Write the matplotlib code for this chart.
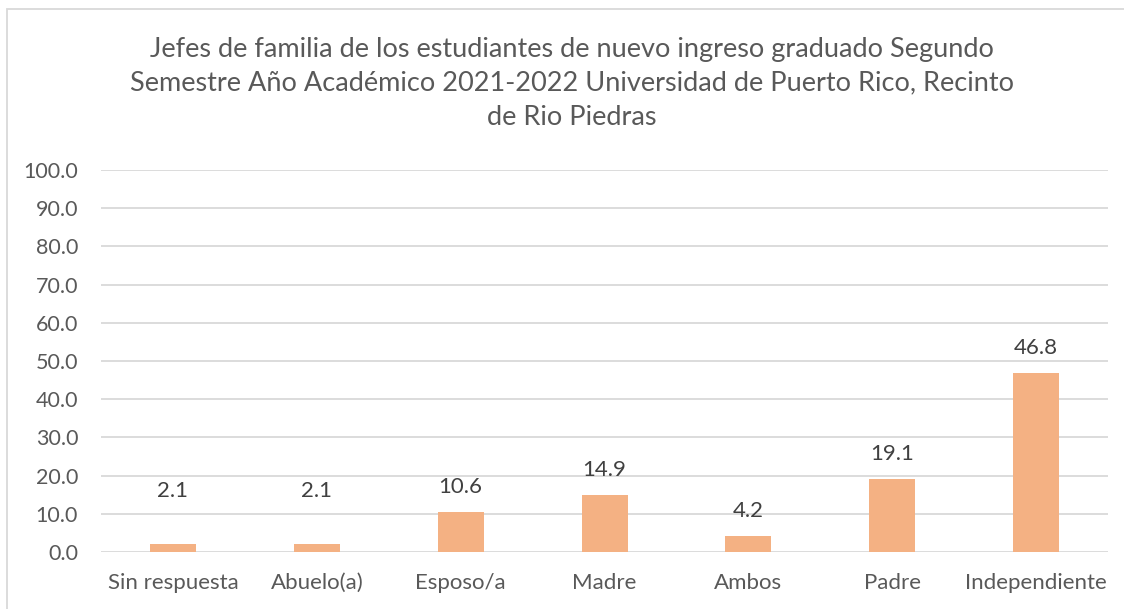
import matplotlib.pyplot as plt
from matplotlib.patches import Rectangle

categories = ["Sin respuesta", "Abuelo(a)", "Esposo/a", "Madre", "Ambos", "Padre", "Independiente"]
values = [2.1, 2.1, 10.6, 14.9, 4.2, 19.1, 46.8]
yticks = [0, 10, 20, 30, 40, 50, 60, 70, 80, 90, 100]
title = ("Jefes de familia de los estudiantes de nuevo ingreso graduado Segundo\n"
         "Semestre Año Académico 2021-2022 Universidad de Puerto Rico, Recinto\n"
         "de Rio Piedras")

# label offsets above the bar tops, in points
label_offsets = [38, 38, 18, 18, 18, 18, 18]

TEXT = "#595959"
GRID = "#D9D9D9"
BAR = "#F4B183"

plt.rcParams["font.family"] = ["Lato", "DejaVu Sans"]

fig = plt.figure(figsize=(11.24, 6.09), dpi=100)
ax = fig.add_axes([0.0899, 0.0936, 0.8959, 0.6273])

x = range(len(categories))
ax.bar(x, values, width=0.32, color=BAR, zorder=2)
for i, v in enumerate(values):
    ax.annotate(f"{v:.1f}", (i, v), xytext=(0, label_offsets[i]), textcoords="offset points",
                ha="center", va="center", fontsize=16, color="#404040")

ax.set_xlim(-0.5, len(categories) - 0.5)
ax.set_ylim(0, 100)
ax.set_yticks(yticks)
ax.set_yticklabels([f"{t:.1f}" for t in yticks])
ax.set_xticks(list(x))
ax.set_xticklabels(categories)
ax.tick_params(axis="y", length=0, labelsize=15.5, labelcolor=TEXT, pad=16.5)
ax.tick_params(axis="x", length=0, labelsize=16, labelcolor=TEXT, pad=15)
ax.grid(axis="y", color=GRID, linewidth=1.3, zorder=0)
for s in ax.spines.values():
    s.set_visible(False)

fig.text(0.5085, 0.8637, title, ha="center", va="center", fontsize=19.5, color=TEXT, linespacing=1.45)

# chart border
fig.patches.append(Rectangle((7 / 1124, -0.01), 1.02, 1 - 9 / 609 + 0.01,
                             transform=fig.transFigure, fill=False, edgecolor=GRID, linewidth=1.3))

fig.savefig("out.png", dpi=100)
